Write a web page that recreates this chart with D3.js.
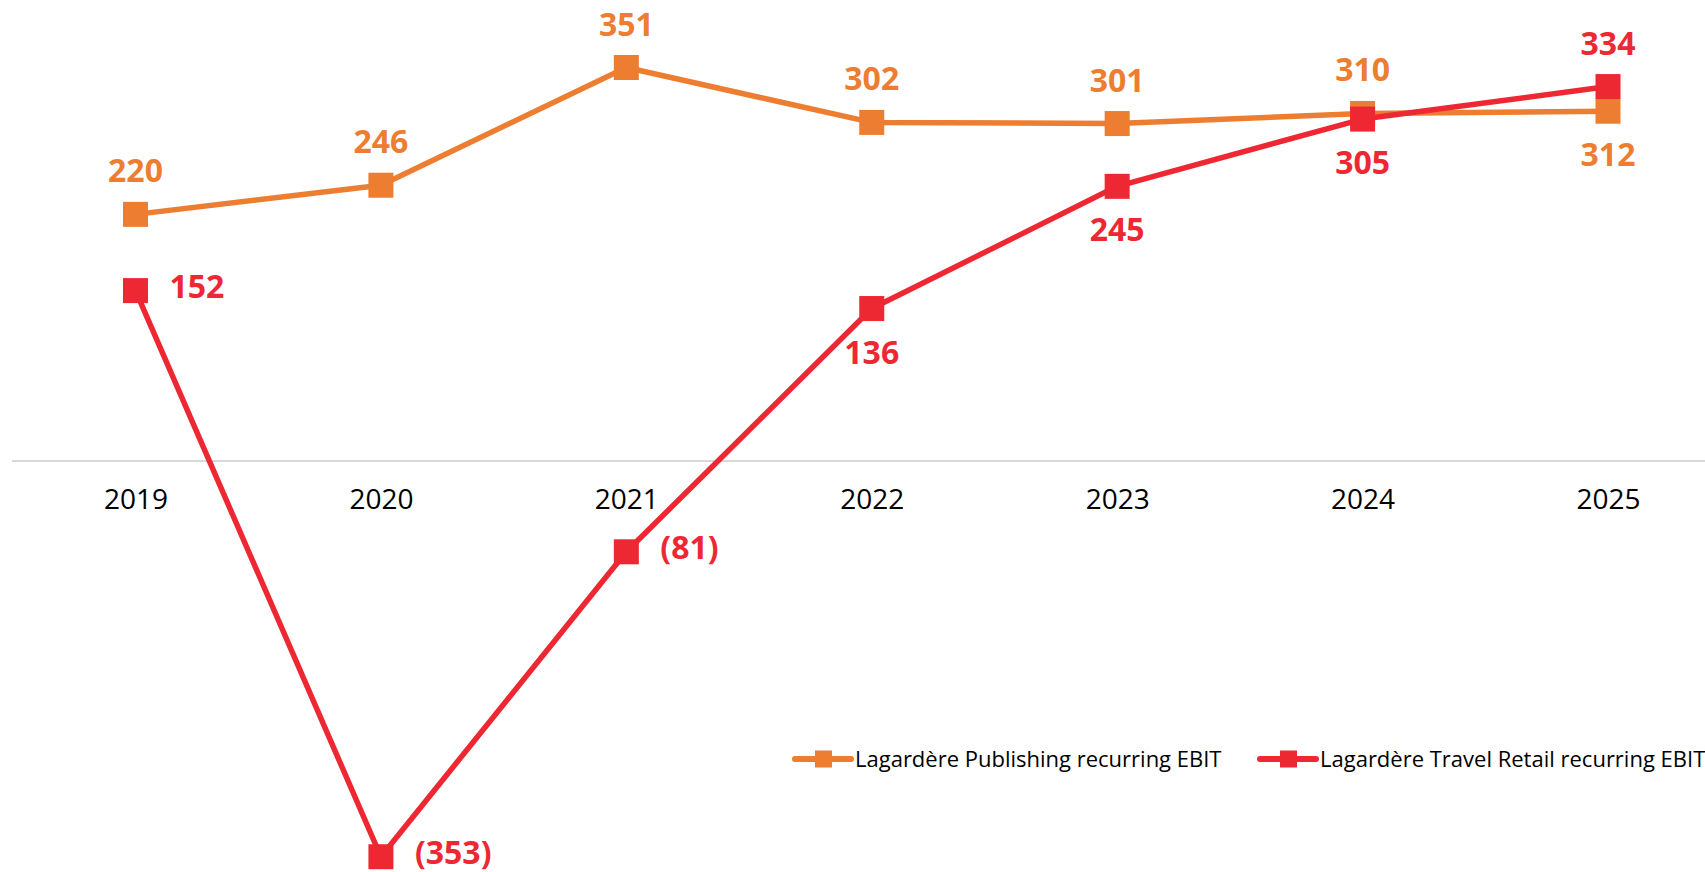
<!DOCTYPE html>
<html>
<head>
<meta charset="utf-8">
<script src="https://cdn.jsdelivr.net/npm/d3@7"></script>
<style>
  body { margin: 0; background: #fff; }
  text { font-family: "Open Sans", sans-serif; }
</style>
</head>
<body>
<div id="chart"></div>
<script>
// data
const years = ["2019", "2020", "2021", "2022", "2023", "2024", "2025"];
const publishing = [220, 246, 351, 302, 301, 310, 312];
const travelRetail = [152, -353, -81, 136, 245, 305, 334];
const seriesNames = ["Lagardère Publishing recurring EBIT", "Lagardère Travel Retail recurring EBIT"];
// where each data label sits relative to its point
const publishingLabelPos = ["above", "above", "above", "above", "above", "above", "below"];
const travelLabelPos = ["right", "right", "right", "below", "below", "below", "above"];

const width = 1705, height = 872;
const colors = ["#ED7D31", "#EE2833"];

const svg = d3.select("#chart")
  .append("svg")
    .attr("width", width)
    .attr("height", height);

const x = d3.scalePoint()
  .domain(years)
  .range([135.5, 1608]);

const y = d3.scaleLinear()
  .domain([0, 351])
  .range([461, 67.5]);

// zero line
svg.append("line")
  .attr("x1", 12).attr("x2", width)
  .attr("y1", y(0)).attr("y2", y(0))
  .attr("stroke", "#d9d9d9")
  .attr("stroke-width", 2);

// year labels
const xAxis = svg.append("g")
  .attr("transform", `translate(0,${y(0)})`)
  .call(d3.axisBottom(x).tickSize(0).tickPadding(28));
xAxis.select(".domain").remove();
xAxis.selectAll("text")
  .attr("font-family", "Open Sans, sans-serif")
  .attr("font-size", 28)
  .attr("fill", "#000");

const series = [
  {name: seriesNames[0], values: publishing, pos: publishingLabelPos, fmt: d => d},
  {name: seriesNames[1], values: travelRetail, pos: travelLabelPos,
   fmt: d => d < 0 ? `(${-d})` : d}
];

const line = d3.line()
  .x((d, i) => x(years[i]))
  .y(d => y(d));

series.forEach((s, k) => {
  const g = svg.append("g");
  g.append("path")
    .datum(s.values)
    .attr("fill", "none")
    .attr("stroke", colors[k])
    .attr("stroke-width", 5.5)
    .attr("stroke-linejoin", "round")
    .attr("d", line);

  g.selectAll("rect")
    .data(s.values)
    .join("rect")
      .attr("x", (d, i) => x(years[i]) - 12.5)
      .attr("y", d => y(d) - 12.5)
      .attr("width", 25)
      .attr("height", 25)
      .attr("fill", colors[k]);
});

// data labels drawn after both lines so none is hidden
series.forEach((s, k) => {
  svg.append("g").selectAll("text")
    .data(s.values)
    .join("text")
      .attr("font-size", 32)
      .attr("font-weight", 700)
      .attr("fill", colors[k])
      .attr("text-anchor", (d, i) => s.pos[i] === "right" ? "start" : "middle")
      .attr("x", (d, i) => s.pos[i] === "right" ? x(years[i]) + 34 : x(years[i]))
      .attr("y", (d, i) => {
        if (s.pos[i] === "above") return y(d) - 32;
        if (s.pos[i] === "below") return y(d) + 55;
        return y(d) + 7;
      })
      .text(d => s.fmt(d));
});

// legend
const legendX = [795, 1260];
const legend = svg.append("g")
  .attr("transform", "translate(0,759)");
series.forEach((s, k) => {
  const lg = legend.append("g")
    .attr("transform", `translate(${legendX[k]},0)`);
  lg.append("line")
    .attr("x1", 0).attr("x2", 56)
    .attr("stroke", colors[k])
    .attr("stroke-width", 6)
    .attr("stroke-linecap", "round");
  lg.append("rect")
    .attr("x", 20).attr("y", -8.5)
    .attr("width", 17).attr("height", 17)
    .attr("fill", colors[k]);
  lg.append("text")
    .attr("x", 60)
    .attr("y", 8)
    .attr("font-size", 22)
    .attr("fill", "#000")
    .text(s.name);
});
</script>
</body>
</html>
